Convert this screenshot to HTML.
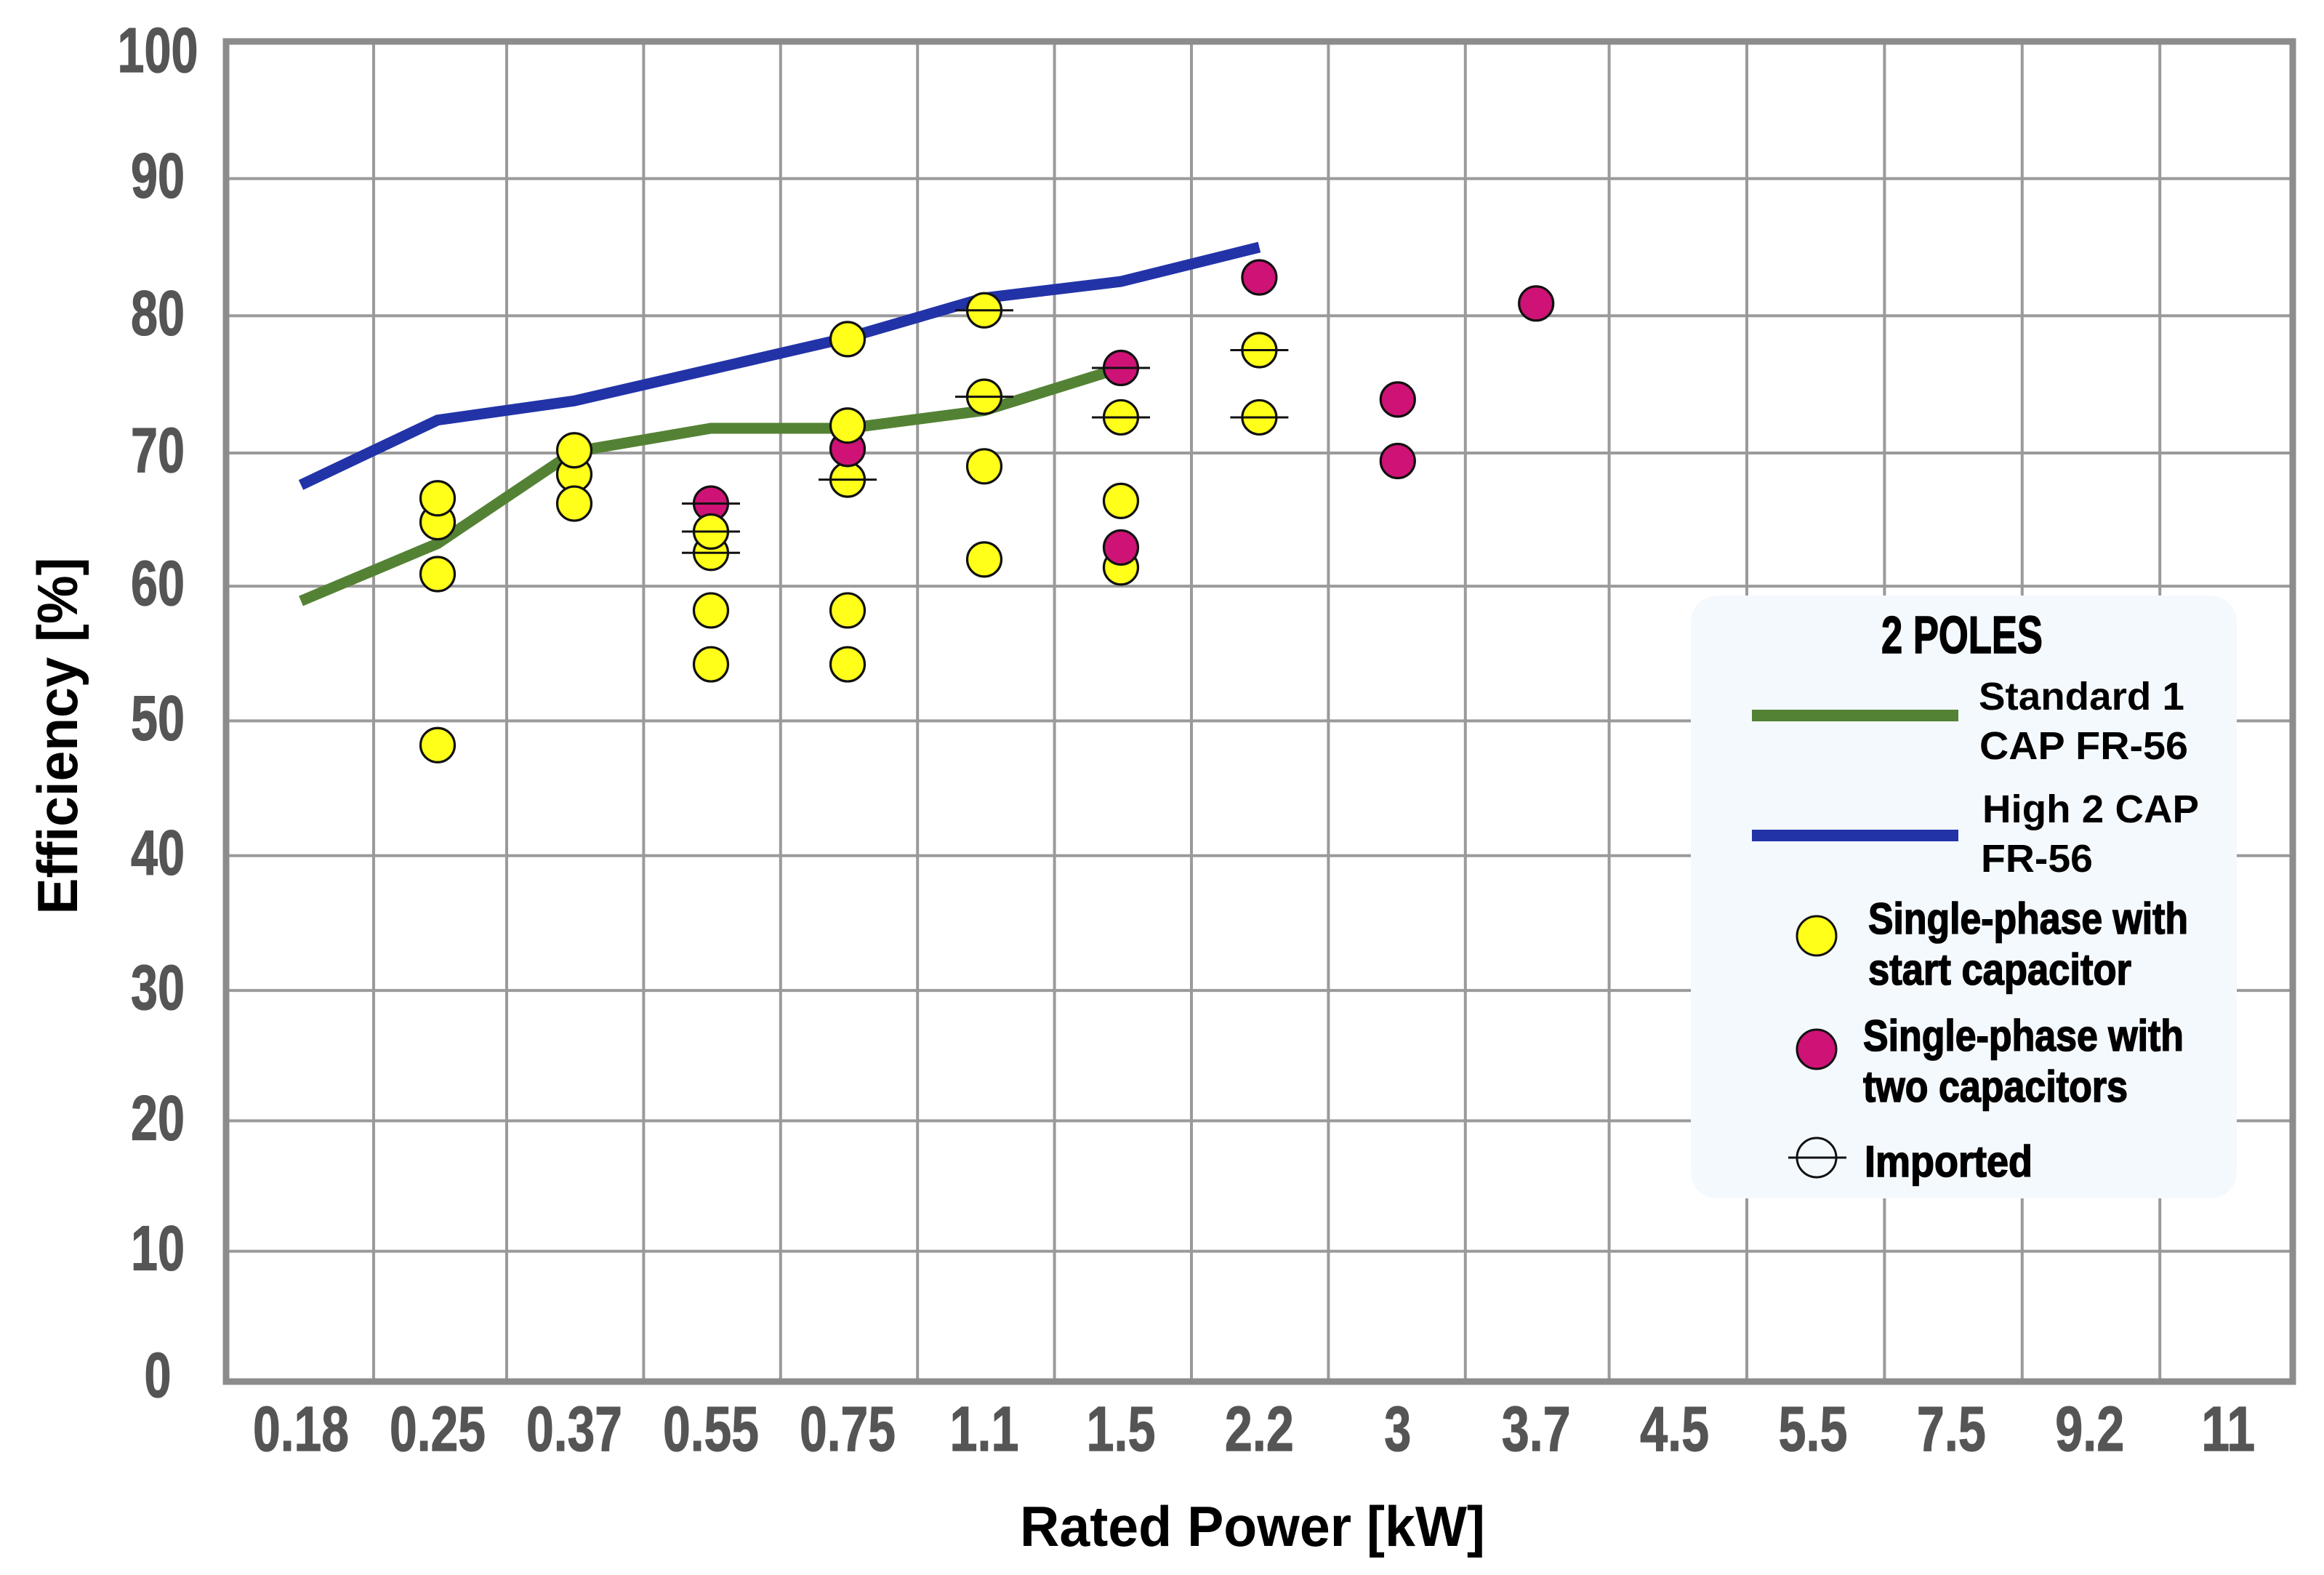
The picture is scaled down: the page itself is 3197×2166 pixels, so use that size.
<!DOCTYPE html>
<html lang="en">
<head>
<meta charset="utf-8">
<title>Efficiency vs Rated Power - 2 Poles</title>
<style>
  html, body { margin: 0; padding: 0; background: #fff; }
  svg { display: block; }
  text { font-family: "Liberation Sans Narrow", "Liberation Sans", sans-serif; font-weight: 700; }
  .helv { font-family: "Liberation Sans", sans-serif; }
  .heavy { stroke: #000; stroke-width: 1.6; }
</style>
</head>
<body>
<svg id="chart" xmlns="http://www.w3.org/2000/svg" width="3197" height="2166" viewBox="0 0 3197 2166">
  <rect x="0" y="0" width="3197" height="2166" fill="#fff"/>
  <g id="grid"></g>
  <rect x="311" y="57" width="2843" height="1843" fill="none" stroke="#8c8c8c" stroke-width="9"/>
  <g id="y-ticks"></g>
  <g id="x-ticks"></g>
  <g id="lines"></g>
  <g id="points"></g>

  <text class="helv" x="1723" y="2126" font-size="78" fill="#000" text-anchor="middle" textLength="640" lengthAdjust="spacingAndGlyphs">Rated Power [kW]</text>
  <text class="helv" transform="translate(106 1012) rotate(-90)" x="0" y="0" font-size="78" fill="#000" text-anchor="middle" textLength="491" lengthAdjust="spacingAndGlyphs">Efficiency [%]</text>

  <g>
    <rect x="2326" y="819" width="751" height="829" rx="36" ry="36" fill="#f4f9fe"/>
    <text class="heavy" x="2699" y="898" font-size="72" fill="#000" text-anchor="middle" textLength="222" lengthAdjust="spacingAndGlyphs">2 POLES</text>

    <rect x="2410" y="976" width="284" height="16" fill="#548235"/>
    <text class="helv" x="2722" y="976" font-size="54" fill="#000" textLength="283" lengthAdjust="spacingAndGlyphs">Standard 1</text>
    <text class="helv" x="2723" y="1044" font-size="54" fill="#000" textLength="287" lengthAdjust="spacingAndGlyphs">CAP FR-56</text>

    <rect x="2410" y="1141" width="284" height="16" fill="#2233a8"/>
    <text class="helv" x="2727" y="1131" font-size="54" fill="#000" textLength="298" lengthAdjust="spacingAndGlyphs">High 2 CAP</text>
    <text class="helv" x="2725" y="1199" font-size="54" fill="#000" textLength="154" lengthAdjust="spacingAndGlyphs">FR-56</text>

    <circle cx="2499" cy="1287" r="27" fill="#ffff1a" stroke="#111" stroke-width="3"/>
    <text class="heavy" x="2570" y="1284" font-size="60" fill="#000" textLength="440" lengthAdjust="spacingAndGlyphs">Single-phase with</text>
    <text class="heavy" x="2570" y="1354" font-size="60" fill="#000" textLength="362" lengthAdjust="spacingAndGlyphs">start capacitor</text>

    <circle cx="2499" cy="1443" r="27" fill="#cf1275" stroke="#111" stroke-width="3"/>
    <text class="heavy" x="2563" y="1445" font-size="60" fill="#000" textLength="441" lengthAdjust="spacingAndGlyphs">Single-phase with</text>
    <text class="heavy" x="2563" y="1515" font-size="60" fill="#000" textLength="364" lengthAdjust="spacingAndGlyphs">two capacitors</text>

    <circle cx="2499" cy="1592" r="27" fill="none" stroke="#111" stroke-width="3"/>
    <line x1="2460" y1="1592" x2="2540" y2="1592" stroke="#111" stroke-width="3"/>
    <text class="heavy" x="2565" y="1618" font-size="60" fill="#000" textLength="231" lengthAdjust="spacingAndGlyphs">Imported</text>
  </g>
</svg>

<script>
const categories = ["0.18","0.25","0.37","0.55","0.75","1.1","1.5","2.2","3","3.7","4.5","5.5","7.5","9.2","11"];
const yTicks = [0,10,20,30,40,50,60,70,80,90,100];

const standardValues = [58.9,63.2,70.1,71.8,71.8,73.1,76.2];
const highValues = [67.6,72.4,73.8,76.1,78.4,81.3,82.5,85.0];

// Points are listed in drawing order (later ones sit on top).
const pointCategories = [
  "0.25","0.25","0.25","0.25",
  "0.37","0.37","0.37",
  "0.55","0.55","0.55","0.55","0.55",
  "0.75","0.75","0.75","0.75","0.75","0.75",
  "1.1","1.1","1.1","1.1",
  "1.5","1.5","1.5","1.5","1.5",
  "2.2","2.2","2.2",
  "3","3",
  "3.7"
];
const pointValues = [
  48.2,60.9,64.8,66.6,
  68.4,66.2,70.2,
  66.2,62.5,64.1,58.2,54.2,
  68.0,70.3,72.0,78.3,58.2,54.2,
  80.4,74.1,69.0,62.0,
  76.2,72.6,66.4,61.4,62.9,
  82.8,77.5,72.6,
  73.9,69.4,
  80.9
];
const pointKinds = [
  "start","start","start","start",
  "start","start","start",
  "two","start","start","start","start",
  "start","two","start","start","start","start",
  "start","start","start","start",
  "two","start","start","start","two",
  "two","start","start",
  "two","two",
  "two"
];
const pointImported = [
  false,false,false,false,
  false,false,false,
  true,true,true,false,false,
  true,false,false,false,false,false,
  true,true,false,false,
  true,true,false,false,false,
  false,true,true,
  false,false,
  false
];

const NS = "http://www.w3.org/2000/svg";

// Category axis: the scanned source runs a touch wider past the seventh band.
function xScale(index) {
  return index <= 6 ? 414 + 188 * index : 1542 + 190.4 * (index - 6);
}
function xDivider(index) {
  if (index === 0) return 514;
  if (index <= 8) return 697 + 188.4 * (index - 1);
  return 2403 + 189.4 * (index - 10);
}
// Value axis: the scanned source is slightly stretched toward the top.
function yScale(value) {
  if (value <= 30) return 1900 - 17.93 * value;
  if (value <= 60) return 1362 - 18.53 * (value - 30);
  if (value <= 70) return 806 - 18.3 * (value - 60);
  return 623 - 18.87 * (value - 70);
}

function make(parent, tag, attrs) {
  const el = document.createElementNS(NS, tag);
  for (const k in attrs) el.setAttribute(k, attrs[k]);
  parent.appendChild(el);
  return el;
}

const gridGroup = document.getElementById("grid");
yTicks.forEach(function (t) {
  if (t === 0 || t === 100) return;
  const el = make(gridGroup, "line", { x1: 311, x2: 3154, y1: yScale(t), y2: yScale(t), stroke: "#9a9a9a", "stroke-width": 4 });
  
  
});
categories.slice(1).forEach(function (c, i) {
  const x = xDivider(i);
  const el = make(gridGroup, "line", { x1: x, x2: x, y1: 57, y2: 1900, stroke: "#9a9a9a", "stroke-width": 4 });
  
  
});

const yTickGroup = document.getElementById("y-ticks");
yTicks.forEach(function (t) {
  const label = String(t);
  const shift = t === 100 ? 42 : (t === 0 ? 21 : 26);
  const el = make(yTickGroup, "text", { x: 217, y: yScale(t) + shift, "font-size": 87, fill: "#555", stroke: "#555", "stroke-width": 1.2, "text-anchor": "middle", textLength: label.length * 37, lengthAdjust: "spacingAndGlyphs" });
  el.textContent = label;
  
  
});

const xTickGroup = document.getElementById("x-ticks");
categories.forEach(function (c, i) {
  const width = c.replace(".", "").length * 37 + (c.indexOf(".") >= 0 ? 21 : 0);
  const el = make(xTickGroup, "text", { x: xScale(i), y: 1995, "font-size": 87, fill: "#555", stroke: "#555", "stroke-width": 1.2, "text-anchor": "middle", textLength: width, lengthAdjust: "spacingAndGlyphs" });
  el.textContent = c;
  
  
});

function linePoints(values) {
  return values.map(function (v, i) { return xScale(i) + "," + yScale(v); }).join(" ");
}
const lineGroup = document.getElementById("lines");
const standardLine = make(lineGroup, "polyline", { points: linePoints(standardValues), fill: "none", stroke: "#548235", "stroke-width": 15, "stroke-linejoin": "miter" });


const highLine = make(lineGroup, "polyline", { points: linePoints(highValues), fill: "none", stroke: "#2233a8", "stroke-width": 15, "stroke-linejoin": "miter" });



const pointGroup = document.getElementById("points");
pointValues.forEach(function (v, i) {
  const cx = xScale(categories.indexOf(pointCategories[i]));
  const cy = yScale(v);
  const fill = pointKinds[i] === "two" ? "#cf1275" : "#ffff1a";
  const dot = make(pointGroup, "circle", { cx: cx, cy: cy, r: 23.5, fill: fill, stroke: "#111", "stroke-width": 3.2 });
  
  
});
pointValues.forEach(function (v, i) {
  if (!pointImported[i]) return;
  const cx = xScale(categories.indexOf(pointCategories[i]));
  const cy = yScale(v);
  const bar = make(pointGroup, "line", { x1: cx - 40, x2: cx + 40, y1: cy, y2: cy, stroke: "#111", "stroke-width": 3 });
  
  
});
</script>
</body>
</html>
